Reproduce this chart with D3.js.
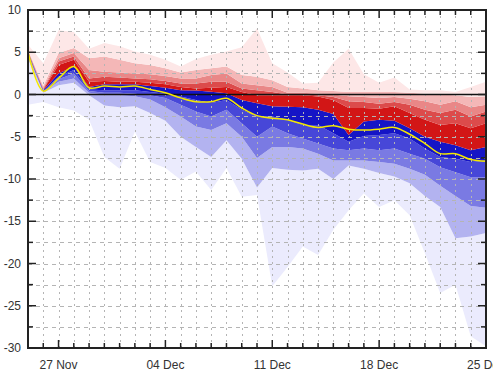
<!DOCTYPE html>
<html>
<head>
<meta charset="utf-8">
<script src="https://cdn.jsdelivr.net/npm/d3@7"></script>
<style>
  body { margin: 0; background: #fff; }
  svg { display: block; font-family: "Liberation Sans", Arial, sans-serif; }
</style>
</head>
<body>
<svg id="chart" width="493" height="375"></svg>
<script>
const W = 493, H = 375;
const plotL = 28, plotR = 486, plotT = 10, plotB = 348;

// one value per day, 25 Nov .. 25 Dec
const dates = ["2023-11-25","2023-11-26","2023-11-27","2023-11-28","2023-11-29","2023-11-30",
  "2023-12-01","2023-12-02","2023-12-03","2023-12-04","2023-12-05","2023-12-06","2023-12-07",
  "2023-12-08","2023-12-09","2023-12-10","2023-12-11","2023-12-12","2023-12-13","2023-12-14",
  "2023-12-15","2023-12-16","2023-12-17","2023-12-18","2023-12-19","2023-12-20","2023-12-21",
  "2023-12-22","2023-12-23","2023-12-24","2023-12-25"];

// percentile lines (max down to min)
const q100 = [5.9,3.7,7.6,7.4,5.4,6.1,5.7,5.1,4.7,4.1,3.3,4.2,4.7,5.1,5.6,7.8,3.7,2.6,1.3,1.4,3.8,5.4,2.4,1.4,2.0,0.6,0.5,0.5,0.3,0.9,1.5];
const q90  = [5.3,1.0,4.9,5.5,4.3,4.5,4.1,3.7,3.5,3.1,2.6,2.9,3.1,3.3,2.3,2.1,1.7,0.9,0.7,0.5,0.4,0.3,0.3,0.3,0.3,0.2,0.1,0.0,-0.1,-0.3,-0.2];
const q80  = [5.2,0.8,4.3,4.9,2.9,2.7,2.6,2.5,2.4,2.2,1.9,1.9,2.3,2.5,1.3,1.1,0.9,0.2,0.2,0.1,0.0,-0.2,-0.3,-0.4,-0.3,-0.5,-0.8,-1.2,-0.8,-1.5,-1.2];
const q70  = [5.1,0.65,3.9,4.5,1.9,2.1,2.0,1.9,1.8,1.6,1.3,1.3,1.5,1.5,0.7,0.5,0.3,0.0,0.0,-0.1,-0.3,-0.8,-0.9,-1.1,-0.9,-1.2,-1.8,-2.2,-1.8,-2.6,-2.0];
const q60  = [5.05,0.55,3.5,4.1,1.5,1.6,1.5,1.5,1.4,1.2,0.9,0.7,0.8,0.9,0.3,-0.1,-0.1,-0.1,-0.1,-0.25,-0.65,-1.6,-1.6,-1.7,-1.4,-2.2,-3.0,-3.6,-3.4,-4.0,-3.4];
const q50  = [5.0,0.5,2.5,3.3,0.9,1.2,1.2,1.2,1.0,0.8,0.5,0.46,0.34,0.14,-0.65,-1.05,-1.4,-1.44,-1.5,-1.8,-2.3,-4.8,-3.2,-3.0,-3.1,-4.0,-5.0,-5.6,-6.0,-6.6,-6.2];
const q40  = [4.9,0.4,2.1,2.9,0.6,0.5,0.5,0.5,0.3,0.1,-0.25,-0.65,-1.0,-0.65,-1.8,-2.6,-2.6,-3.0,-3.6,-3.6,-4.6,-5.6,-4.9,-4.8,-4.6,-5.2,-6.4,-7.4,-7.6,-8.0,-7.8];
const q30  = [4.8,0.35,1.8,2.5,0.4,0.2,0.2,0.1,-0.1,-0.4,-1.2,-2.0,-2.6,-1.8,-3.4,-5.0,-3.8,-4.6,-5.2,-5.8,-6.4,-6.6,-6.4,-6.6,-6.4,-7.0,-7.6,-8.6,-9.2,-9.8,-9.8];
const q20  = [4.6,0.3,1.5,1.9,0.2,0.0,-0.1,-0.2,-0.6,-1.5,-2.6,-3.8,-4.2,-3.4,-5.0,-7.5,-6.2,-6.2,-6.4,-7.0,-7.8,-7.8,-7.8,-8.0,-8.2,-8.8,-9.5,-10.8,-12.0,-13.2,-13.4];
const q10  = [4.2,0.2,1.1,1.4,-0.1,-1.3,-1.5,-1.4,-2.2,-3.1,-5.0,-6.2,-7.4,-5.4,-7.6,-11.0,-8.7,-8.9,-9.0,-8.8,-10.0,-8.4,-8.8,-9.3,-9.7,-10.5,-12.0,-13.3,-17.0,-16.8,-16.4];
const q0   = [-1.2,-0.9,-1.5,-1.9,-3.0,-7.4,-8.8,-4.4,-8.0,-8.7,-10.1,-9.1,-11.3,-8.7,-12.1,-11.9,-22.7,-20.4,-18.0,-19.0,-16.0,-13.7,-11.7,-13.3,-12.5,-14.3,-18.8,-23.5,-22.5,-28.6,-29.8];
// smoothed central line
const mean = [5.0,0.4,1.9,3.3,0.8,1.0,0.9,1.0,0.6,0.2,-0.4,-0.85,-0.85,-0.45,-1.6,-2.5,-2.8,-3.0,-3.5,-3.9,-3.7,-4.1,-4.2,-4.1,-3.9,-4.7,-5.8,-7.0,-7.0,-7.7,-7.9];

const yMajor = [10,5,0,-5,-10,-15,-20,-25,-30];
const yGrid = [7.5,5,2.5,-2.5,-5,-7.5,-10,-12.5,-15,-17.5,-20,-22.5,-25,-27.5];

const lines = [q0,q10,q20,q30,q40,q50,q60,q70,q80,q90,q100];
const bandColors = ["#ebebfd","#b3b3f0","#7a7ae3","#4747d8","#1515c6",
                    "#d21616","#dc4b4b","#e98787","#f4b7b7","#fde7e7"];

const parse = d3.timeParse("%Y-%m-%d");
const days = dates.map(parse);

const svg = d3.select("#chart");
const x = d3.scaleTime().domain([days[0], days[days.length-1]]).range([plotL, plotR]);
const y = d3.scaleLinear().domain([-30, 10]).range([plotB, plotT]);

svg.append("defs").append("clipPath").attr("id","plot")
  .append("rect").attr("x",plotL).attr("y",plotT).attr("width",plotR-plotL).attr("height",plotB-plotT);

const g = svg.append("g").attr("clip-path","url(#plot)");

// bands
for (let i = 0; i < 10; i++) {
  const lo = lines[i], hi = lines[i+1];
  const area = d3.area()
    .x((d, k) => x(days[k]))
    .y0((d, k) => y(lo[k]))
    .y1((d, k) => y(hi[k]));
  g.append("path").datum(days).attr("d", area).attr("fill", bandColors[i]);
}

// grid
const gridDays = days.slice(1, -1);
g.selectAll(".vg").data(gridDays).join("line")
  .attr("x1", d => Math.round(x(d)) + 0.5).attr("x2", d => Math.round(x(d)) + 0.5)
  .attr("y1", plotT).attr("y2", plotB)
  .attr("stroke", "#b4b4b4").attr("stroke-width", 1).attr("stroke-dasharray", "2,4");
g.selectAll(".hg").data(yGrid).join("line")
  .attr("x1", plotL).attr("x2", plotR)
  .attr("y1", d => Math.round(y(d)) + 0.5).attr("y2", d => Math.round(y(d)) + 0.5)
  .attr("stroke", "#b4b4b4").attr("stroke-width", 1).attr("stroke-dasharray", "4,4");

// zero line
g.append("line").attr("x1", plotL).attr("x2", plotR).attr("y1", y(0)).attr("y2", y(0))
  .attr("stroke", "#111").attr("stroke-width", 1.5);

// central line
g.append("path").datum(mean)
  .attr("d", d3.line().x((d, k) => x(days[k])).y(d => y(d)).curve(d3.curveCatmullRom.alpha(0.5)))
  .attr("fill", "none").attr("stroke", "#f4e800").attr("stroke-width", 1.5);

// frame
const frame = svg.append("g").attr("stroke", "#222").attr("stroke-width", 2);
frame.append("line").attr("x1", plotL).attr("x2", plotL).attr("y1", plotT - 1).attr("y2", plotB + 1);
frame.append("line").attr("x1", plotR).attr("x2", plotR).attr("y1", plotT - 1).attr("y2", plotB + 1);
frame.append("line").attr("x1", plotL).attr("x2", plotR).attr("y1", plotT).attr("y2", plotT);
frame.append("line").attr("x1", plotL).attr("x2", plotR).attr("y1", plotB).attr("y2", plotB);

// ticks (inward)
const allY = d3.range(-30, 10.01, 2.5);
const tk = svg.append("g").attr("stroke", "#222").attr("stroke-width", 1.5);
allY.forEach(v => {
  const len = v % 5 === 0 ? 8 : 5;
  tk.append("line").attr("x1", plotL).attr("x2", plotL + len).attr("y1", y(v)).attr("y2", y(v));
  tk.append("line").attr("x1", plotR).attr("x2", plotR - len).attr("y1", y(v)).attr("y2", y(v));
});
const weekDay = days[2].getDay();
const weekTicks = days.filter(d => d.getDay() === weekDay);
gridDays.forEach(d => {
  const len = d.getDay() === weekDay ? 8 : 5;
  tk.append("line").attr("x1", x(d)).attr("x2", x(d)).attr("y1", plotB).attr("y2", plotB - len);
  tk.append("line").attr("x1", x(d)).attr("x2", x(d)).attr("y1", plotT).attr("y2", plotT + len);
});

// labels
svg.selectAll(".yl").data(yMajor).join("text")
  .attr("x", 21).attr("y", d => y(d)).attr("dy", "0.35em")
  .attr("text-anchor", "end").attr("font-size", 12).attr("fill", "#333")
  .text(d => d);
const fmt = d3.timeFormat("%d %b");
svg.selectAll(".xl").data(weekTicks).join("text")
  .attr("x", d => x(d)).attr("y", 369)
  .attr("text-anchor", "middle").attr("font-size", 12).attr("fill", "#333")
  .text(d => fmt(d));
</script>
</body>
</html>
